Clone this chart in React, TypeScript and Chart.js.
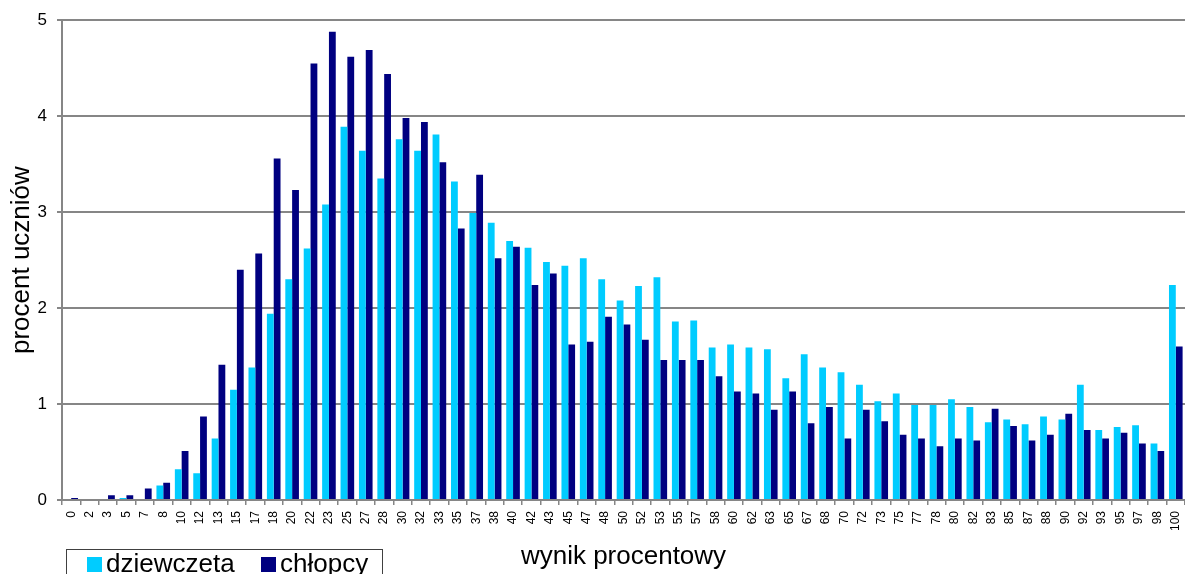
import React, { useEffect, useRef } from "react";
import { Chart, registerables } from "chart.js";

Chart.register(...registerables);

const categories = ["0","2","3","5","7","8","10","12","13","15","17","18","20","22","23","25","27","28","30","32","33","35","37","38","40","42","43","45","47","48","50","52","53","55","57","58","60","62","63","65","67","68","70","72","73","75","77","78","80","82","83","85","87","88","90","92","93","95","97","98","100"];

const girls = [0,0,0,0.02,0,0.15,0.32,0.28,0.64,1.15,1.38,1.94,2.30,2.62,3.08,3.89,3.64,3.35,3.76,3.64,3.81,3.32,2.99,2.89,2.70,2.63,2.48,2.44,2.52,2.30,2.08,2.23,2.32,1.86,1.87,1.59,1.62,1.59,1.57,1.27,1.52,1.38,1.33,1.20,1.03,1.11,0.99,0.99,1.05,0.97,0.81,0.84,0.79,0.87,0.84,1.20,0.73,0.76,0.78,0.59,2.24];

const boys = [0.02,0,0.05,0.05,0.12,0.18,0.51,0.87,1.41,2.40,2.57,3.56,3.23,4.55,4.88,4.62,4.69,4.44,3.98,3.94,3.52,2.83,3.39,2.52,2.64,2.24,2.36,1.62,1.65,1.91,1.83,1.67,1.46,1.46,1.46,1.29,1.13,1.11,0.94,1.13,0.80,0.97,0.64,0.94,0.82,0.68,0.64,0.56,0.64,0.62,0.95,0.77,0.62,0.68,0.90,0.73,0.64,0.70,0.59,0.51,1.60];

const seriesNames = ["dziewczeta", "chłopcy"];
const seriesColors = ["#00CCFF", "#000080"];
const yTicks = [0, 1, 2, 3, 4, 5];
const xTitle = "wynik procentowy";
const yTitle = "procent uczniów";

const FONT = "'Liberation Sans', Arial, sans-serif";
const GRID = "#868686";

const legendPlugin = {
  id: "boxLegend",
  afterDraw(chart: any) {
    const ctx = chart.ctx;
    ctx.save();
    ctx.strokeStyle = "#404040";
    ctx.lineWidth = 1;
    ctx.strokeRect(66.5, 549.5, 316, 40);
    ctx.font = `26px ${FONT}`;
    ctx.textBaseline = "alphabetic";
    ctx.textAlign = "left";
    const xs = [87, 261];
    chart.data.datasets.forEach((ds: any, i: number) => {
      ctx.fillStyle = ds.backgroundColor;
      ctx.fillRect(xs[i], 557, 15, 15);
      ctx.fillStyle = "#000";
      ctx.fillText(ds.label, xs[i] + 19, 572);
    });
    ctx.restore();
  },
};

export default function App() {
  const ref = useRef<HTMLCanvasElement>(null);
  useEffect(() => {
    if (!ref.current) return;
    const chart = new Chart(ref.current, {
      type: "bar",
      data: {
        labels: categories,
        datasets: [
          { label: seriesNames[0], data: girls, backgroundColor: seriesColors[0], categoryPercentage: 0.74, barPercentage: 1 },
          { label: seriesNames[1], data: boys, backgroundColor: seriesColors[1], categoryPercentage: 0.74, barPercentage: 1 },
        ],
      },
      options: {
        animation: false,
        responsive: false,
        layout: { padding: { top: 20, right: 0, left: 0, bottom: 0 } },
        plugins: { legend: { display: false }, tooltip: { enabled: false } },
        scales: {
          x: {
            offset: true,
            grid: { display: true, drawOnChartArea: false, drawTicks: true, tickLength: 5, color: GRID, lineWidth: 1.5 },
            border: { display: true, color: GRID, width: 2 },
            ticks: { autoSkip: false, minRotation: 90, maxRotation: 90, padding: 6, color: "#000", font: { family: FONT, size: 12 } },
            title: { display: true, text: xTitle, color: "#000", font: { family: FONT, size: 26 }, padding: { top: 0, bottom: 2 } },
            afterFit(scale: any) { scale.height = 74; scale.paddingLeft = 0; scale.paddingRight = 0; },
          },
          y: {
            min: 0,
            max: 5,
            afterBuildTicks(scale: any) { scale.ticks = yTicks.map((v) => ({ value: v })); },
            grid: { color: GRID, lineWidth: 2, tickLength: 5, drawTicks: true },
            border: { display: true, color: GRID, width: 2 },
            ticks: { padding: 10, color: "#000", font: { family: FONT, size: 17 } },
            title: { display: true, text: yTitle, color: "#000", font: { family: FONT, size: 26 }, padding: { top: 6, bottom: 0 } },
            afterFit(scale: any) { scale.width = 62; },
          },
        },
      },
      plugins: [legendPlugin],
    });
    return () => chart.destroy();
  }, []);
  return (
    <div style={{ position: "fixed", left: 0, top: 0, width: 1185, height: 574, background: "#fff" }}>
      <canvas ref={ref} width={1185} height={574} style={{ display: "block" }} />
    </div>
  );
}
